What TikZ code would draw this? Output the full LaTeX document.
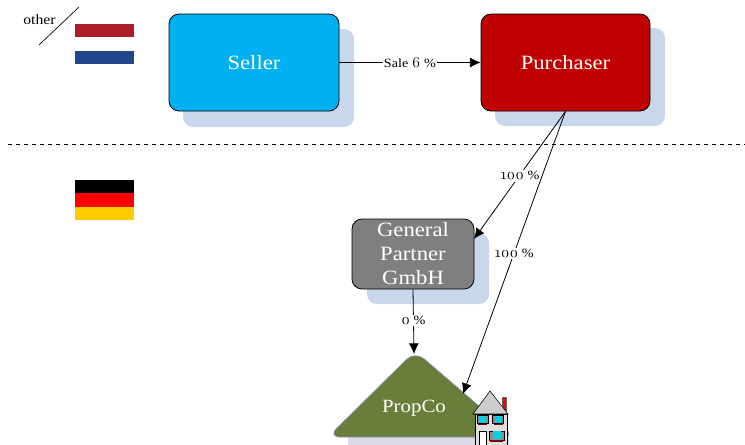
\documentclass[tikz,border=0pt]{standalone}
\usepackage{fontspec}
\setmainfont[FakeStretch=1.12]{Liberation Serif}
\newfontfamily\oldnum[Numbers=OldStyle,FakeStretch=1.05,Scale=1.18]{Latin Modern Roman}
\usetikzlibrary{calc,arrows.meta}
\definecolor{shadowblue}{HTML}{C9D7EC}
\definecolor{sellerblue}{HTML}{00B0F0}
\definecolor{purchred}{HTML}{C00000}
\definecolor{gpgray}{HTML}{7F7F7F}
\definecolor{propgreen}{HTML}{687E3A}
\definecolor{triedge}{HTML}{8A8FB0}
\definecolor{propshade}{HTML}{DADAE8}
\definecolor{nlred}{HTML}{AE1C28}
\definecolor{nlblue}{HTML}{21468B}
\definecolor{degold}{HTML}{FFCC00}
\definecolor{winblue}{HTML}{00D0E8}
\definecolor{shut}{HTML}{800000}
\tikzset{
  x=0.75pt,y=-0.75pt,
  party/.style={draw=black,line width=0.6pt,rounded corners=7.5pt,text=white,align=center,font=\fontsize{15.2}{18}\selectfont,inner sep=0pt},
  shade box/.style={fill=shadowblue,rounded corners=7.5pt},
  link/.style={line width=0.6pt,-{Latex[length=8pt,width=7.5pt]}},
  pct/.style={fill=white,inner sep=1pt,font=\fontsize{9.5}{10}\selectfont},
  stripe/.style={draw=none,minimum width=44.25pt,minimum height=10pt,inner sep=0pt,outer sep=0pt},
}
\begin{document}
\begin{tikzpicture}
\useasboundingbox (0,0) rectangle (745,444);
% shadows
\fill[shade box] (183,29) rectangle (354,127);
\fill[shade box] (495,28) rectangle (665,126);
\fill[shade box] (367,233) rectangle (489,304);
\fill[propshade,rounded corners=5pt] (348,430) rectangle (509,460);
% boxes
\node[party,fill=sellerblue,minimum width=127.5pt,minimum height=72.75pt] (seller) at (254,62.5) {Seller};
\node[party,fill=purchred,minimum width=126.75pt,minimum height=72.75pt] (purch) at (565.5,62.5) {Purchaser};
\node[party,fill=gpgray,minimum width=91.5pt,minimum height=52.5pt] (gp) at (413,254) {General\\Partner\\GmbH};
% PropCo
\fill[propgreen,draw=triedge,line width=0.5pt,rounded corners=9pt] (415,351) -- (515,437) -- (328,437) -- cycle;
\node[text=white,inner sep=0pt,font=\fontsize{14}{14}\selectfont] (prop) at (414,408.5) {PropCo};
\coordinate (propapex) at (414,354);
\coordinate (propside) at (463,394);
\coordinate (gpside) at (474,239);
% divider
\coordinate (dashL) at (8,144);
\coordinate (dashR) at (745,144);
\draw[dashed,line width=0.5pt] (dashL) -- (dashR);
% connectors
\draw[link] (seller.east |- purch.west) -- node[pct]{Sale {\oldnum 6} \%} (purch.west);
\draw[link] (purch.south) -- node[pct,pos=0.49,xshift=-0.5pt,yshift=-1.5pt]{{\oldnum 100} \%} (gpside);
\draw[link] (purch.south) -- node[pct,pos=0.5,yshift=-0.5pt]{{\oldnum 100} \%} (propside);
\draw[link] (gp.south) -- node[pct,pos=0.47,yshift=-0.5pt]{{\oldnum 0} \%} (propapex);
% other
\node[inner sep=0pt,font=\fontsize{10.5}{11}\selectfont] (other) at (39.5,19.5) {other};
\coordinate (slashA) at (39,45);
\coordinate (slashB) at (79,7);
\draw[line width=0.5pt] (slashA) -- (slashB);
% flags
\node[stripe,fill=nlred,anchor=north west] (nl1) at (75,24) {};
\node[stripe,fill=white,anchor=north west] (nl2) at (75,37.33) {};
\node[stripe,fill=nlblue,anchor=north west] (nl3) at (75,50.67) {};
\node[stripe,fill=black,anchor=north west] (de1) at (75,180) {};
\node[stripe,fill=red,anchor=north west] (de2) at (75,193.33) {};
\node[stripe,fill=degold,anchor=north west] (de3) at (75,206.67) {};
% house
\fill[red,draw=black!60,line width=0.2pt] (502,397) rectangle (506,412);
\fill[black!20,draw=black,line width=0.4pt] (490,391) -- (508,414) -- (473,414) -- cycle;
\fill[black!12,draw=black,line width=0.4pt] (475,414) rectangle (507,446);
\foreach \wx in {482.5,498}{
  \fill[shut] (\wx-4.5,423) rectangle (\wx+4.5,425);
  \fill[black!45,draw=black,line width=0.2pt] (\wx-5.5,415.5) rectangle (\wx+5.5,423.5);
  \fill[winblue] (\wx-3.5,416) rectangle (\wx+3,423);
}
\fill[white,draw=black,line width=0.3pt] (479,431) rectangle (486,446);
\fill[black!45,draw=black,line width=0.2pt] (489,431) rectangle (504,440);
\fill[winblue] (493,431) rectangle (501,439);
\fill[shut] (490,440) rectangle (503,441.5);
\end{tikzpicture}
\end{document}
